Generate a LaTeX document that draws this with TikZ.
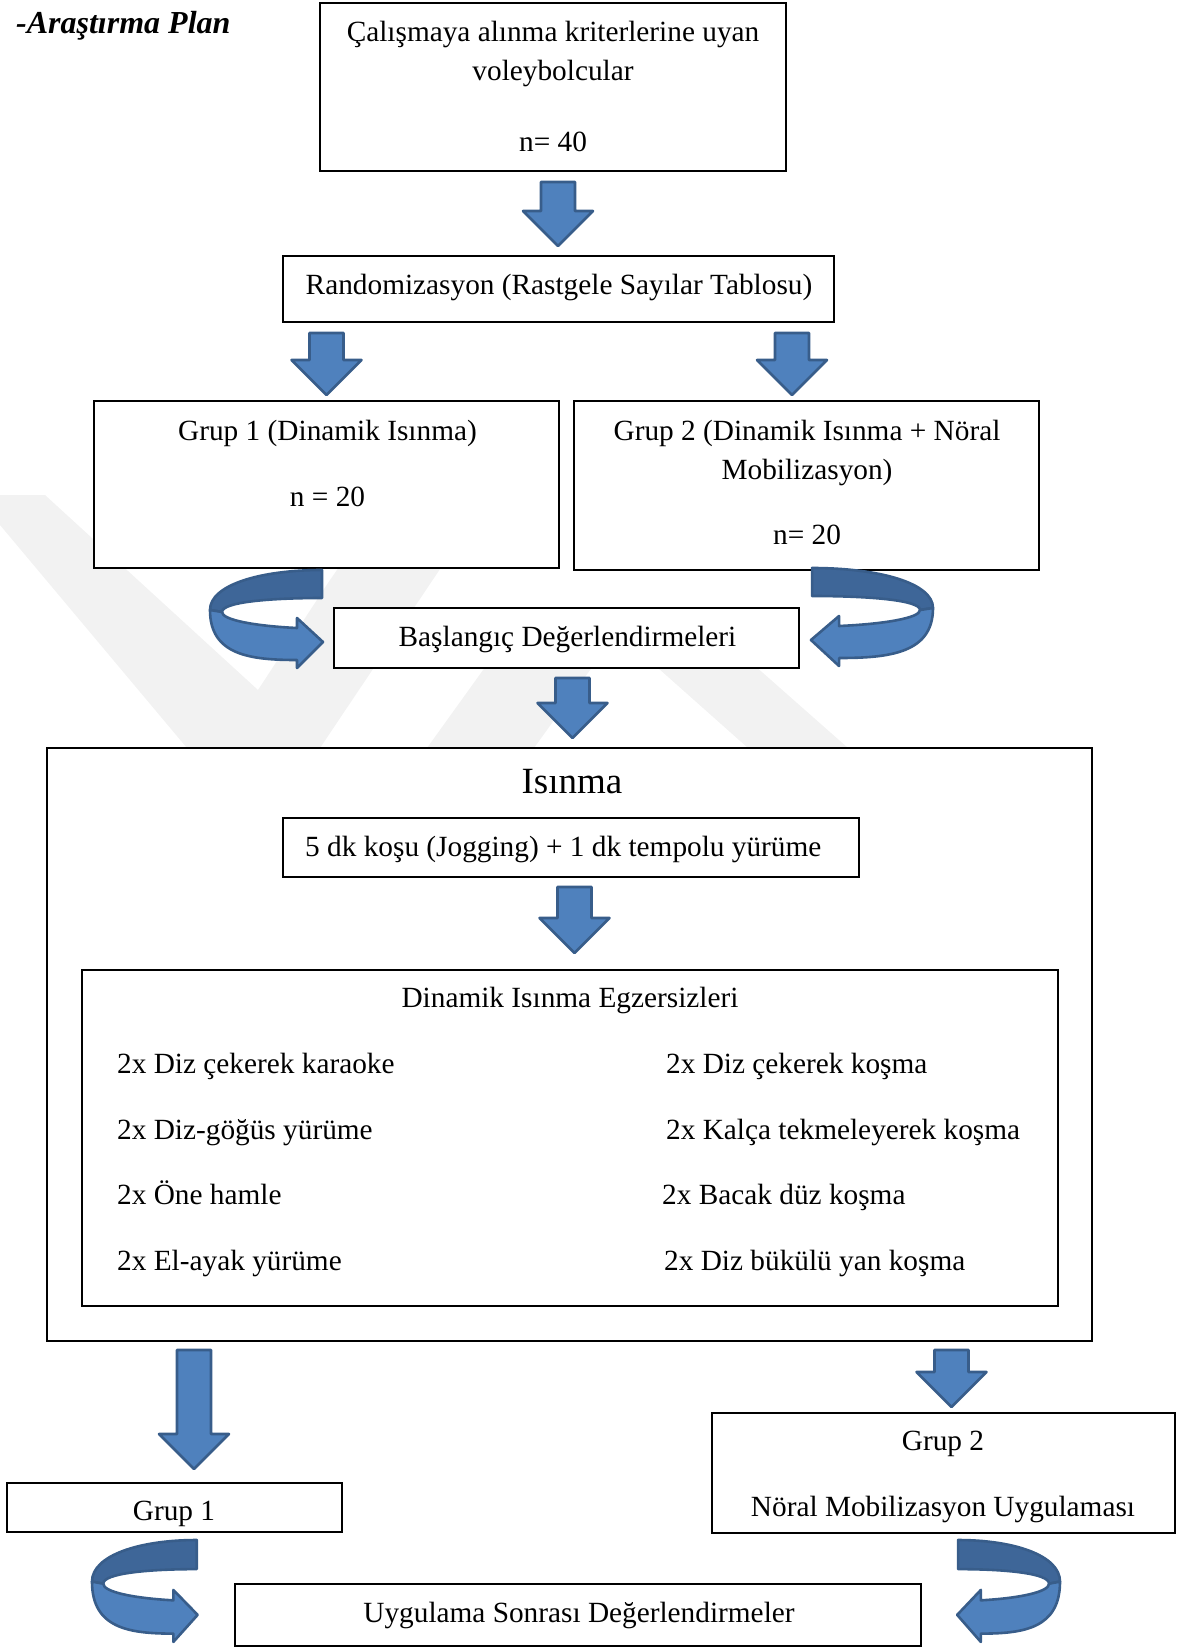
\documentclass[tikz,border=0pt]{standalone}
\usepackage{fontspec}
\setmainfont{Liberation Serif}
\definecolor{arrowblue}{RGB}{79,129,189}
\definecolor{arrowdark}{RGB}{62,102,152}
\definecolor{arrowline}{RGB}{56,93,138}
\definecolor{markgray}{RGB}{242,242,242}
\tikzset{
    box/.style={draw, line width=1.5pt, fill=white, inner sep=0pt},
    boxwh/.style 2 args={box, minimum width=#1pt, minimum height=#2pt},
    txt/.style={anchor=base, inner sep=0pt, font=\fontsize{29.3}{35}\selectfont},
    txtl/.style={txt, anchor=base west},
    blockarrow/.style={draw=arrowline, fill=arrowblue, line width=2.6pt, line join=round},
    pics/downarr/.style={code={
        \draw[blockarrow] (-17,0) -- (17,0) -- (17,#1-35) -- (35,#1-35) -- (0,#1)
            -- (-35,#1-35) -- (-17,#1-35) -- cycle;
    }},
    pics/curvarr/.style={code={
        \draw[blockarrow, fill=arrowdark] (112,0) .. controls (50,0) and (0,15) .. (0,40)
            -- (12,42) .. controls (12,32) and (60,28) .. (112,28) -- cycle;
        \draw[blockarrow] (0,40) .. controls (0,85) and (40,90) .. (87,90) -- (87,98)
            -- (113,72) -- (87,48) -- (87,58) .. controls (45,56) and (12,50) .. (12,42) -- cycle;
    }}
}
\begin{document}
\begin{tikzpicture}[x=1pt, y=-1pt]
    \useasboundingbox (0,0) rectangle (1190,1651);
    % watermark
    \fill[markgray] (0,495) -- (45,495) -- (258,690) -- (328,583) -- (450,405) -- (550,405)
        -- (320,748) -- (187,748) -- (0,525) -- cycle;
    \fill[markgray] (427,748) -- (534,748) -- (626,620) -- (519,620) -- cycle;
    \fill[markgray] (604,620) -- (703,620) -- (848,748) -- (748,748) -- cycle;

    \node[anchor=base west, inner sep=0pt, font=\fontsize{32}{38}\selectfont\bfseries\itshape]
        (title) at (16,34) {-Araştırma Plan};

    % boxes
    \node[boxwh={466}{168}] (start) at (553,87) {};
    \node[boxwh={551}{66}] (rand) at (558.5,289) {};
    \node[boxwh={465}{167}] (grupa) at (326.5,484.5) {};
    \node[boxwh={465}{169}] (grupb) at (806.5,485.5) {};
    \node[boxwh={465}{60}] (pre) at (566.5,638) {};
    \node[boxwh={1045}{593}] (warm) at (569.5,1044.5) {};
    \node[boxwh={576}{59}] (jog) at (571,847.5) {};
    \node[boxwh={976}{336}] (dyn) at (570,1138) {};
    \node[boxwh={335}{49}] (enda) at (174.5,1507.5) {};
    \node[boxwh={463}{120}] (endb) at (943.5,1473) {};
    \node[boxwh={686}{62}] (post) at (578,1615) {};

    % texts
    \node[txt] (starta) at (553,41.5) {Çalışmaya alınma kriterlerine uyan};
    \node[txt] (startb) at (553,80.5) {voleybolcular};
    \node[txt] (startn) at (553,151) {n= 40};
    \node[txt] (randt) at (559,294) {Randomizasyon (Rastgele Sayılar Tablosu)};
    \node[txt] (grupat) at (327.5,440) {Grup 1 (Dinamik Isınma)};
    \node[txt] (grupan) at (327.5,506) {n = 20};
    \node[txt] (grupbt) at (807,440) {Grup 2 (Dinamik Isınma + Nöral};
    \node[txt] (grupbu) at (807,479) {Mobilizasyon)};
    \node[txt] (grupbn) at (807,544) {n= 20};
    \node[txt] (pret) at (567.5,646) {Başlangıç Değerlendirmeleri};
    \node[txt, font=\fontsize{37}{44}\selectfont] (warmt) at (572,793) {Isınma};
    \node[txtl] (jogt) at (305,856) {5 dk koşu (Jogging) + 1 dk tempolu yürüme};
    \node[txt] (dynt) at (570,1007) {Dinamik Isınma Egzersizleri};
    \foreach \n/\y/\l/\rx/\r in {
        1/1073/{2x Diz çekerek karaoke}/666/{2x Diz çekerek koşma},
        2/1139/{2x Diz-göğüs yürüme}/666/{2x Kalça tekmeleyerek koşma},
        3/1204/{2x Öne hamle}/662/{2x Bacak düz koşma},
        4/1270/{2x El-ayak yürüme}/664/{2x Diz bükülü yan koşma}} {
        \node[txtl] (left\n) at (117,\y) {\l};
        \node[txtl] (right\n) at (\rx,\y) {\r};
    }
    \node[txt] (endat) at (174,1520) {Grup 1};
    \node[txt] (endbt) at (943,1450) {Grup 2};
    \node[txt] (endbu) at (943,1516) {Nöral Mobilizasyon Uygulaması};
    \node[txt] (postt) at (579,1622) {Uygulama Sonrası Değerlendirmeler};

    % arrows
    \pic at (558,182) {downarr=64};
    \pic at (326.5,333) {downarr=62};
    \pic at (792,333) {downarr=62};
    \pic at (572.5,678) {downarr=60};
    \pic at (574.5,887) {downarr=66};
    \pic at (194,1350) {downarr=119};
    \pic at (951.5,1350) {downarr=57};
    \pic at (210,570) {curvarr};
    \pic[xscale=-1.08] at (933,568) {curvarr};
    \pic[xscale=0.935, yscale=1.04] at (92,1540) {curvarr};
    \pic[xscale=-0.91, yscale=1.04] at (1060,1540) {curvarr};
\end{tikzpicture}
\end{document}
